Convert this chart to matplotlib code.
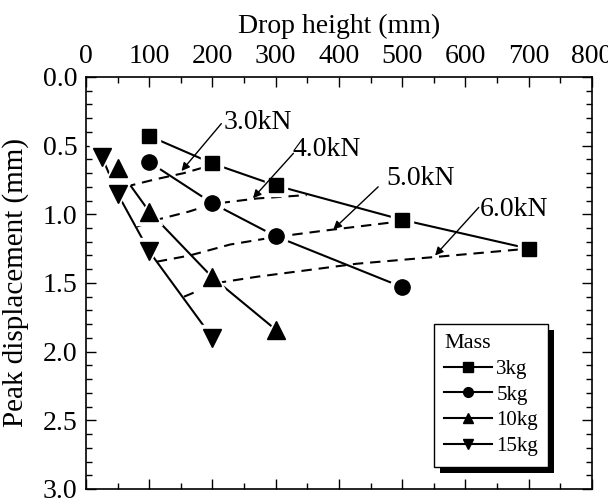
import matplotlib
matplotlib.use('Agg')
import matplotlib.pyplot as plt
from matplotlib.lines import Line2D
from matplotlib.patches import Rectangle
from matplotlib.ticker import MultipleLocator

plt.rcParams['font.family'] = ['Liberation Serif', 'DejaVu Serif']

# drop height (mm) vs peak displacement (mm) for each impact mass
masses = ['3kg', '5kg', '10kg', '15kg']
heights = [
    [100, 200, 300, 500, 700],
    [100, 200, 300, 500],
    [50, 100, 200, 300],
    [25, 50, 100, 200],
]
disps = [
    [0.43, 0.63, 0.79, 1.04, 1.25],
    [0.62, 0.92, 1.16, 1.53],
    [0.66, 0.98, 1.46, 1.84],
    [0.58, 0.85, 1.27, 1.90],
]
markers = ['s', 'o', '^', 'v']
msizes = [10, 11, 12.5, 12.5]

# constant peak-force contours (dashed)
forces = ['3.0kN', '4.0kN', '5.0kN', '6.0kN']
force_h = [
    [62, 110, 155, 200],
    [80, 112, 163, 200, 270, 349],
    [112, 164, 228, 300, 375, 500],
    [155, 207, 270, 428, 554, 700],
]
force_d = [
    [0.80, 0.745, 0.70, 0.64],
    [1.09, 1.04, 0.98, 0.925, 0.885, 0.86],
    [1.345, 1.30, 1.22, 1.165, 1.12, 1.05],
    [1.60, 1.50, 1.455, 1.36, 1.31, 1.25],
]
# label text position, arrow start, arrow tip
label_xy = [(217, 0.335), (327, 0.53), (475, 0.737), (623, 0.967)]
arrow_from = [(214, 0.34), (328, 0.556), (462, 0.80), (621, 0.95)]
arrow_to = [(151, 0.685), (264, 0.883), (391, 1.11), (552, 1.30)]

fig = plt.figure(figsize=(6.08, 5.01), dpi=100)
ax = fig.add_axes([0.1414, 0.024, 0.8322, 0.8224])

for h, d in zip(force_h, force_d):
    ax.plot(h, d, color='black', lw=1.5, ls=(0, (5, 3.3)), zorder=2)

for h, d, m, s in zip(heights, disps, markers, msizes):
    ax.plot(h, d, color='black', lw=1.5, zorder=2)
    ax.plot(h, d, ls='none', marker=m, ms=s + 6, mfc='white', mec='white', zorder=3)
    ax.plot(h, d, ls='none', marker=m, ms=s, mfc='black', mec='black', zorder=4)

for lab, txy, a0, a1 in zip(forces, label_xy, arrow_from, arrow_to):
    ax.annotate('', xy=a1, xytext=a0,
                arrowprops=dict(arrowstyle='-|>', color='black', lw=1,
                                mutation_scale=12, shrinkA=0, shrinkB=0),
                zorder=5)
    ax.text(txy[0], txy[1], lab, fontsize=20, ha='left', va='center', zorder=5)

ax.set_xlim(0, 800)
ax.set_ylim(3.0, 0.0)
ax.xaxis.set_major_locator(MultipleLocator(100))
ax.xaxis.set_minor_locator(MultipleLocator(50))
ax.yaxis.set_major_locator(MultipleLocator(0.5))
ax.yaxis.set_minor_locator(MultipleLocator(0.1))
ax.yaxis.set_major_formatter(plt.FormatStrFormatter('%.1f'))
ax.xaxis.tick_top()
ax.xaxis.set_label_position('top')
ax.tick_params(which='both', direction='in', top=True, bottom=True, left=True,
               right=True, labelsize=20, width=1)
ax.tick_params(which='major', length=7, pad=6)
ax.tick_params(which='minor', length=4)
for sp in ax.spines.values():
    sp.set_linewidth(1.2)

ax.set_xlabel('Drop height (mm)', fontsize=20, labelpad=8)
ax.set_ylabel('Peak displacement (mm)', fontsize=21)
ax.yaxis.set_label_coords(-0.112, 0.5)

handles = [Line2D([], [], color='black', lw=1.5, marker=m, ms=7, mfc='black', mec='black')
           for m in markers]
leg = ax.legend(handles, masses, title='Mass', loc='lower right',
                bbox_to_anchor=(0.914, 0.054), borderaxespad=0, fontsize=15,
                title_fontsize=16, alignment='left', fancybox=False, framealpha=1,
                edgecolor='black', handlelength=2.3, handletextpad=0.2,
                labelspacing=0.3, borderpad=0.5)
leg.get_frame().set_linewidth(1)
leg.set_zorder(6)

fig.canvas.draw()
bb = leg.get_window_extent()
off = 6
shadow = Rectangle((bb.x0 + off, bb.y0 - off), bb.width, bb.height, transform=None,
                   facecolor='black', edgecolor='none', zorder=5.9, clip_on=False)
ax.add_artist(shadow)

fig.savefig('out.png', dpi=100)
